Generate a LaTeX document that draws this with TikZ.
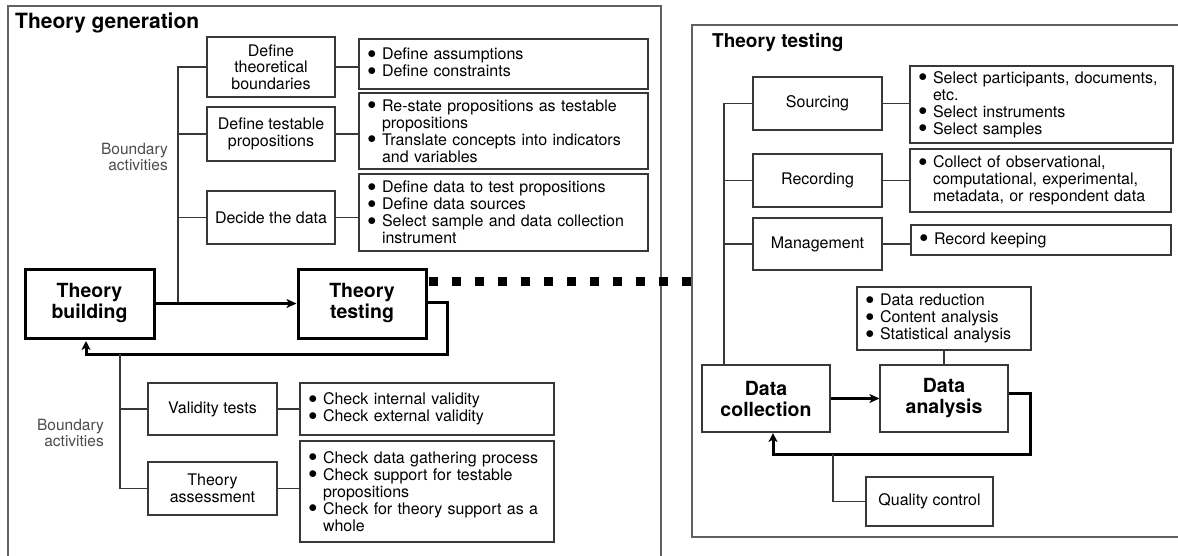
\documentclass[tikz,border=0pt]{standalone}
\usepackage{fontspec}
\usepackage{graphicx}
\setmainfont{TeX Gyre Heros}
\usetikzlibrary{calc,arrows.meta}
\definecolor{linegray}{rgb}{0.22,0.22,0.22}
\definecolor{framegray}{rgb}{0.38,0.38,0.38}
\definecolor{labelgray}{rgb}{0.30,0.30,0.30}
\newcommand\bul{\makebox[15pt][l]{\raisebox{-3.6pt}{\scalebox{1.7}{\textbullet}}}}
\newcommand\ind{\hspace*{15pt}}
\begin{document}
\begin{tikzpicture}[x=1pt,y=-1pt,
  box/.style={draw=linegray, line width=1.1pt, align=center, inner sep=2pt,
    font=\fontsize{16}{16.5}\selectfont},
  bbox/.style={draw=linegray, line width=1.1pt, align=left, inner xsep=8pt, inner ysep=2pt,
    font=\fontsize{16}{17}\selectfont},
  bigbox/.style={draw=black, line width=3pt, align=center, inner sep=2pt,
    font=\fontsize{19.5}{21}\selectfont\bfseries},
  bigthin/.style={draw=linegray, line width=1.1pt, align=center, inner sep=2pt,
    font=\fontsize{19.5}{21}\selectfont\bfseries},
  conn/.style={draw=linegray, line width=1.1pt},
  mainarrow/.style={draw=black, line width=2.2pt, -{Stealth[length=10pt,width=9pt,inset=2.5pt]}},
  fbk/.style={draw=black, line width=3pt, -{Stealth[length=9pt,width=9pt,inset=2.5pt]}},
  sqdash/.style={draw=black, line width=9pt, dash pattern=on 9pt off 14pt},
  frame/.style={draw=framegray, line width=1.4pt},
  title/.style={font=\fontsize{19}{21}\selectfont\bfseries, inner sep=0pt},
  lbl/.style={text=labelgray, align=right, inner sep=0pt, font=\fontsize{15.5}{15.5}\selectfont}
]
\clip (0,0) rectangle (1178,555);
\fill[white] (0,0) rectangle (1178,555);

% frames
\draw[frame] (8,6) rectangle (661,580);
\draw[frame] (692,25) rectangle (1200,537);
\node[title, font=\fontsize{21}{23}\selectfont\bfseries, anchor=west] (t1) at (15,23) {Theory generation};
\node[title, anchor=west] (t2) at (712,42) {Theory testing};

% ---------- Theory generation ----------
\node[box, minimum width=128pt, minimum height=60pt] (dtb) at (271,67) {Define\\theoretical\\boundaries};
\node[box, minimum width=128pt, minimum height=54pt] (dtp) at (271,134) {Define testable\\propositions};
\node[box, minimum width=128pt, minimum height=53pt] (dd) at (271,217.5) {Decide the data};

\node[bbox, minimum width=289pt, minimum height=50pt, text width=273pt] (b1) at (503.5,64)
  {\bul Define assumptions\\\bul Define constraints};
\node[bbox, minimum width=289pt, minimum height=76pt, text width=273pt] (b2) at (503.5,131)
  {\bul Re-state propositions as testable\\\ind propositions\\\bul Translate concepts into indicators\\\ind and variables};
\node[bbox, minimum width=289pt, minimum height=77pt, text width=273pt] (b3) at (503.5,212.5)
  {\bul Define data to test propositions\\\bul Define data sources\\\bul Select sample and data collection\\\ind instrument};

\node[bigbox, minimum width=129pt, minimum height=69pt] (tb) at (89.5,303.5) {Theory\\building};
\node[bigbox, minimum width=128pt, minimum height=69pt] (tt) at (362,303.5) {Theory\\testing};

\node[lbl, anchor=east] (ba1) at (168,157) {Boundary\\activities};
\node[lbl, anchor=east] (ba2) at (104,433) {Boundary\\activities};

\coordinate (j1) at (178,303.5);
\draw[conn] (j1) |- (dtb.west);
\draw[conn] (dtp.west) -- (dtp.west -| j1);
\draw[conn] (dd.west) -- (dd.west -| j1);
\draw[conn] (dtb.east) -- (dtb.east -| b1.west);
\draw[conn] (dtp.east) -- (dtp.east -| b2.west);
\draw[conn] (dd.east) -- (dd.east -| b3.west);

\draw[mainarrow] (tb.east) -- (tt.west);

\coordinate (f1) at (447,354);
\coordinate (f2) at (86,354);
\draw[fbk] ($(tt.east)+(0,-1)$) -| (f1) -- (f2) -- ($(f2 |- tb.south)+(0,1.5)$);

\coordinate (rfl) at (692,281);
\draw[sqdash] ($(tt.east |- rfl)+(1.5,0)$) -- (rfl);

\node[box, minimum width=129pt, minimum height=52pt] (vt) at (212.5,409) {Validity tests};
\node[box, minimum width=129pt, minimum height=53pt] (ta) at (212.5,488.5) {Theory\\assessment};
\node[bbox, minimum width=254pt, minimum height=52pt, text width=238pt] (b4) at (427,409)
  {\bul Check internal validity\\\bul Check external validity};
\node[bbox, minimum width=254pt, minimum height=101pt, text width=238pt] (b5) at (427,491.5)
  {\bul Check data gathering process\\\bul Check support for testable\\\ind propositions\\\bul Check for theory support as a\\\ind whole};

\coordinate (j2) at (120,354);
\draw[conn] (j2) |- (ta.west);
\draw[conn] (vt.west) -- (vt.west -| j2);
\draw[conn] (vt.east) -- (vt.east -| b4.west);
\draw[conn] (ta.east) -- (ta.east -| b5.west);

% ---------- Theory testing ----------
\node[box, minimum width=129pt, minimum height=53pt] (src) at (817.5,103.5) {Sourcing};
\node[box, minimum width=129pt, minimum height=53pt] (rec) at (817.5,180.5) {Recording};
\node[box, minimum width=129pt, minimum height=52pt] (mgt) at (817.5,244) {Management};

\node[bbox, minimum width=263pt, minimum height=77pt, text width=247pt] (b6) at (1041.5,104.5)
  {\bul Select participants, documents,\\\ind etc.\\\bul Select instruments\\\bul Select samples};
\node[bbox, minimum width=261pt, minimum height=63pt, text width=245pt] (b7) at (1040.5,180.5)
  {\bul Collect of observational,\\\ind computational, experimental,\\\ind metadata, or respondent data};
\node[bbox, minimum width=260pt, minimum height=30pt, text width=244pt] (b8) at (1041,240)
  {\bul Record keeping};

\node[bigthin, minimum width=128pt, minimum height=67pt] (dc) at (766,398.5) {Data\\collection};
\node[bigthin, minimum width=128pt, minimum height=67pt] (da) at (944,398.5) {Data\\analysis};
\node[bbox, minimum width=174pt, minimum height=63pt, text width=158pt] (b9) at (944,318.5)
  {\bul Data reduction\\\bul Content analysis\\\bul Statistical analysis};
\node[box, minimum width=127pt, minimum height=49pt] (qc) at (929.5,501.5) {Quality control};

\coordinate (j3) at (724,365);
\draw[conn] (src.west) -| (j3);
\draw[conn] (rec.west) -- (rec.west -| j3);
\draw[conn] (mgt.west) -- (mgt.west -| j3);
\draw[conn] (src.east) -- (src.east -| b6.west);
\draw[conn] (rec.east) -- (rec.east -| b7.west);
\draw[conn] (mgt.east) -- (mgt.east -| b8.west);
\draw[conn] (b9.south) -- (da.north);

\draw[mainarrow] (dc.east) -- (da.west);
\coordinate (g1) at (1030,454);
\coordinate (g2) at (773,454);
\draw[fbk] ($(da.east)+(0,-5)$) -| (g1) -- (g2) -- ($(g2 |- dc.south)+(0,0.5)$);
\coordinate (g3) at (833,454);
\draw[conn] (g3) |- (qc.west);
\end{tikzpicture}
\end{document}
